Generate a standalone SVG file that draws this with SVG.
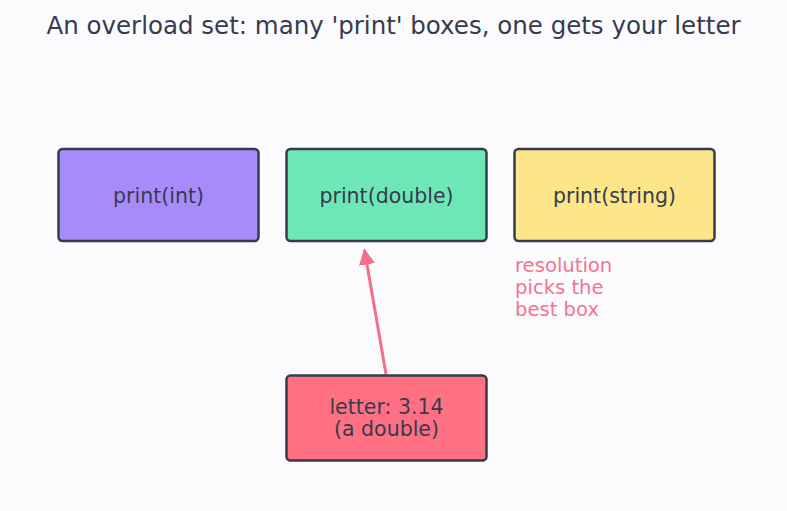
<svg xmlns="http://www.w3.org/2000/svg" width="787" height="511" viewBox="0 0 787 511">
<style>
.box{stroke:#363b4e;stroke-width:2.5}
.lbl{font-family:"DejaVu Sans",sans-serif;font-size:20.5px;fill:#363b4e;text-anchor:middle}
.title{font-family:"DejaVu Sans",sans-serif;font-size:24.5px;fill:#363b4e;text-anchor:middle}
.note{font-family:"DejaVu Sans",sans-serif;font-size:19.6px;fill:#f27590}
</style>
<defs>
<marker id="ah" viewBox="0 0 10 10" refX="9" refY="5" markerWidth="5.4" markerHeight="5.4" orient="auto" markerUnits="strokeWidth">
<path d="M0,0L10,5L0,10z" fill="#f27088"/>
</marker>
</defs>
<rect width="787" height="511" fill="#fbfbfd"/>
<text class="title" x="393.5" y="33.5">An overload set: many 'print' boxes, one gets your letter</text>
<g id="connectors">
<line x1="386" y1="374" x2="364.5" y2="250" stroke="#f27088" stroke-width="3" marker-end="url(#ah)"/>
</g>
<g id="print-int">
<rect class="box" x="58.5" y="149" width="200" height="92" rx="4" fill="#a78bfa"/>
<text class="lbl" x="158.5" y="202.5">print(int)</text>
</g>
<g id="print-double">
<rect class="box" x="286.5" y="149" width="200" height="92" rx="4" fill="#6ee7b7"/>
<text class="lbl" x="386.5" y="202.5">print(double)</text>
</g>
<g id="print-string">
<rect class="box" x="514.5" y="149" width="200" height="92" rx="4" fill="#fde68a"/>
<text class="lbl" x="614.5" y="202.5">print(string)</text>
</g>
<g id="letter">
<rect class="box" x="286.5" y="375.5" width="200" height="85" rx="4" fill="#ff7082"/>
<text class="lbl" x="386.5" y="414">letter: 3.14</text>
<text class="lbl" x="386.5" y="436">(a double)</text>
</g>
<g id="note">
<text class="note" x="515" y="272">resolution</text>
<text class="note" x="515" y="294">picks the</text>
<text class="note" x="515" y="316">best box</text>
</g>
</svg>
